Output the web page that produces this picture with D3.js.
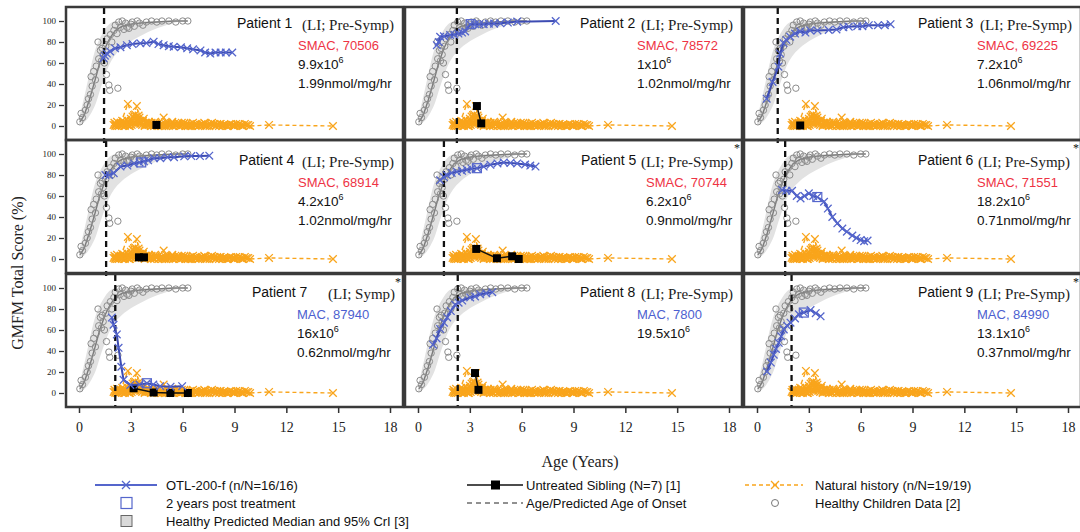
<!DOCTYPE html>
<html><head><meta charset="utf-8">
<script src="https://cdn.jsdelivr.net/npm/d3@7"></script>
<style>body{margin:0;background:#fff}svg{display:block}</style>
</head><body><svg id="c" width="1080" height="532"></svg>
<script>
// ---------- DATA ----------
const xTicks = [0, 3, 6, 9, 12, 15, 18];
const yTicks = [0, 20, 40, 60, 80, 100];

const healthyPoints = [[0.05,4],[0.12,12],[0.2,8],[0.37,15],[0.47,20],[0.55,26],[0.66,30],[0.7,47],[0.76,38],[0.85,52],[0.95,44],[1.0,57],[1.1,80],[1.14,64],[1.24,72],[1.3,62],[1.34,74],[1.4,68],[1.47,60],[1.55,76],[1.59,49],[1.63,83],[1.73,39],[1.78,34],[1.82,87],[1.9,80],[2.02,91],[2.1,96],[2.2,88],[2.25,36],[2.3,99],[2.4,94],[2.5,100],[2.6,92],[2.7,98],[2.79,94],[2.89,93],[3.0,97],[3.08,99],[3.2,95],[3.37,100],[3.5,98],[3.7,96],[3.9,99],[4.2,100],[4.5,99],[4.8,100],[5.2,100],[5.6,99],[6.0,100],[6.3,100]];
const healthyMedian = [[0.05,4],[0.3,10],[0.6,25],[0.9,42],[1.2,60],[1.5,74],[1.8,84],[2.1,91],[2.5,95],[3.0,97],[3.5,98],[4.5,99],[5.5,100],[6.3,100]];
// [age, lower, upper]
const healthyBand = [[0.0,1,8],[0.2,2,20],[0.5,6,42],[0.8,15,65],[1.0,22,76],[1.24,36,85],[1.5,48,92],[1.72,58,97],[2.0,66,100],[2.4,74,100],[3.2,83,100],[4.3,92,100],[5.0,96,100],[5.7,99,100]];

const nh1 = [[2.05,3],[2.4,2],[2.83,21],[3.1,9],[3.5,4],[4.1,2],[4.9,1],[5.8,2],[6.7,1],[7.6,2],[8.5,1],[9.4,1],[9.9,0],[11.0,1],[14.7,0]];
const nh2 = [[2.1,1],[2.6,4],[3.0,5],[3.35,19],[3.45,10],[3.9,3],[4.5,2],[5.3,1],[6.1,3],[7.0,1],[8.0,2],[9.0,0]];
const nh3 = [[2.2,4],[2.7,2],[3.2,7],[3.6,3],[4.3,1],[4.9,8],[5.5,2],[6.4,1],[7.3,0],[8.2,2],[9.2,1]];
const nh4 = [[2.3,0],[2.9,3],[3.3,9],[3.7,5],[4.6,0],[5.1,3],[5.9,0],[6.8,2],[7.8,1],[8.8,2],[9.7,1]];
const nh5 = [[2.0,1],[2.5,5],[3.0,2],[3.4,6],[3.8,1],[4.4,4],[5.6,1],[6.3,0],[7.1,2],[8.4,1]];
const nh6 = [[2.4,3],[2.8,1],[3.2,3],[3.5,8],[4.0,2],[4.8,0],[5.4,4],[6.0,1],[6.6,3],[7.4,0],[8.0,1],[9.6,2]];
const nh7 = [[2.15,2],[2.65,0],[3.05,4],[3.55,2],[4.2,3],[4.7,1],[5.2,0],[5.7,2],[6.2,2],[6.9,0],[7.7,3],[8.7,1],[9.3,2]];
const nh8 = [[2.35,1],[2.75,6],[3.15,3],[3.75,7],[4.05,4],[4.5,1],[5.0,2],[5.35,3],[6.5,2],[7.2,1],[8.1,0],[9.0,1]];
const nh9 = [[2.5,1],[2.9,0],[3.3,2],[3.8,0],[4.25,1],[4.8,2],[5.3,1],[5.8,0],[6.3,1],[6.8,1],[7.3,2],[7.9,0],[8.3,0],[8.9,1],[9.5,0]];
const nh10 = [[2.6,2],[3.05,1],[3.45,3],[3.95,1],[4.35,0],[4.85,1],[5.45,0],[5.95,3],[6.45,0],[7.05,1],[7.55,0],[8.15,2],[8.6,0],[9.1,2],[9.8,1]];
const nh11 = [[2.2,0],[2.55,3],[3.0,7],[3.25,11],[3.55,5],[3.85,3],[4.15,0],[4.55,2],[5.05,0],[5.65,1],[6.15,0],[6.75,0],[7.25,3],[7.85,2],[8.35,1],[8.95,0]];
const nh12 = [[2.1,0],[2.45,1],[2.95,0],[3.35,4],[3.65,1],[4.45,3],[4.95,0],[5.75,3],[6.55,0],[7.45,1],[8.55,0],[9.45,0]];
const naturalHistory = [nh1, nh2, nh3, nh4, nh5, nh6, nh7, nh8, nh9, nh10, nh11, nh12];

const otl1 = [[1.42,64.5],[1.5,67],[1.61,69],[1.8,71],[2.09,74],[2.4,75],[2.77,77],[3.1,78],[3.55,78.7],[3.9,79],[4.32,80.3],[4.6,78],[4.9,77],[5.2,76],[5.48,75.5],[5.9,75],[6.26,74],[6.6,73],[7.03,72],[7.3,70],[7.6,69],[7.9,70],[8.2,70],[8.5,70],[8.87,70]];
const otl2 = [[1.09,77],[1.2,80],[1.28,85],[1.5,85.5],[1.86,86.7],[2.1,87],[2.34,88],[2.55,89],[2.73,90],[3.02,97],[3.3,97],[3.55,97],[3.8,97],[4.1,97.5],[4.4,97.5],[4.77,97.8],[5.2,98.5],[5.74,99.4],[7.97,100]];
const otl3 = [[0.56,26],[0.9,42],[1.24,56.5],[1.34,69],[1.53,79],[1.7,82],[1.92,85],[2.2,88],[2.5,90],[2.8,89],[3.08,91],[3.5,91],[4.15,91.4],[4.6,92],[5.0,94],[5.31,94.6],[5.8,95],[6.1,95],[6.47,96],[7.0,96],[7.4,96],[7.73,97]];
const otl4 = [[1.53,80],[1.75,80],[2.01,81.7],[2.4,88],[2.8,89],[3.18,91],[3.5,92],[3.76,93],[4.0,94],[4.34,96],[4.7,96],[5.12,97],[5.5,97],[6.09,97.8],[6.5,98],[7.0,98],[7.54,98.4]];
const otl5 = [[1.28,75],[1.5,78],[1.67,80],[1.95,82],[2.25,83],[2.55,84],[2.83,85],[3.1,86],[3.41,86.5],[3.8,88],[4.19,89.7],[4.6,91],[4.96,92],[5.35,91.5],[5.74,91],[6.2,90],[6.5,89],[6.8,88]];
const otl6 = [[1.45,65.7],[1.7,65],[2.03,65],[2.3,60],[2.52,57.7],[2.75,60],[3.0,62.5],[3.25,60],[3.49,59],[3.88,54.5],[4.1,48],[4.36,40],[4.65,34],[4.94,29],[5.2,26],[5.52,22.4],[5.75,20],[6.0,18],[6.2,17],[6.4,17.6]];
const otl7 = [[1.9,71.8],[2.0,65],[2.19,55.8],[2.29,43],[2.45,25],[2.58,12.5],[2.97,7.7],[3.5,8],[3.93,9.3],[4.3,8],[4.7,6.5],[5.3,6],[5.97,6.5]];
const otl8 = [[0.87,46],[1.08,52],[1.28,61],[1.5,67],[1.69,72],[1.9,78],[2.15,84],[2.35,86],[2.56,88],[3.02,91],[3.3,92],[3.6,94],[3.95,95],[4.3,96]];
const otl9 = [[0.58,20.5],[0.8,29],[0.97,36.5],[1.1,42],[1.26,47.8],[1.4,54],[1.55,60.6],[1.75,64],[1.94,67],[2.2,71],[2.42,75],[2.71,76.6],[3.1,79],[3.4,76],[3.68,73]];
const otlSeries = [otl1, otl2, otl3, otl4, otl5, otl6, otl7, otl8, otl9];

// 2 years post treatment (open squares), null = none
const post2y = [null, [3.05,97], null, [3.6,92], [3.41,86.5], [3.49,59], [3.93,9.3], null, [2.71,76.6]];

const sib1 = [[4.48,1]];
const sib2 = [[3.41,19],[3.66,2.5]];
const sib3 = [[2.5,0.5]];
const sib4 = [[3.47,1.6],[3.76,1.6]];
const sib5 = [[3.37,9.6],[4.57,0.7],[5.45,2.6],[5.83,0]];
const sib6 = [];
const sib7 = [[3.16,4.5],[4.32,0.5],[5.29,0],[6.3,0]];
const sib8 = [[3.3,19],[3.5,3]];
const sib9 = [];
const siblingSeries = [sib1, sib2, sib3, sib4, sib5, sib6, sib7, sib8, sib9];

const onsetAge = [1.45, 2.25, 1.2, 1.57, 1.5, 1.63, 2.1, 2.3, 2.0];

const patientNames = ["Patient 1","Patient 2","Patient 3","Patient 4","Patient 5","Patient 6","Patient 7","Patient 8","Patient 9"];
const phenotype = ["(LI; Pre-Symp)","(LI; Pre-Symp)","(LI; Pre-Symp)","(LI; Pre-Symp)","(LI; Pre-Symp)","(LI; Pre-Symp)","(LI; Symp)","(LI; Pre-Symp)","(LI; Pre-Symp)"];
const starred = [false,false,false,false,true,true,true,false,true];
const genotype = ["SMAC, 70506","SMAC, 78572","SMAC, 69225","SMAC, 68914","SMAC, 70744","SMAC, 71551","MAC, 87940","MAC, 7800","MAC, 84990"];
const doseMantissa = ["9.9","1","7.2","4.2","6.2","18.2","16","19.5","13.1"];
const activity = ["1.99nmol/mg/hr","1.02nmol/mg/hr","1.06nmol/mg/hr","1.02nmol/mg/hr","0.9nmol/mg/hr","0.71nmol/mg/hr","0.62nmol/mg/hr",null,"0.37nmol/mg/hr"];

// ---------- LAYOUT ----------
const colLeft = [66, 405, 744], rowTop = [7, 140, 274], PW = 337, PH = 133;
const patOff = [[171,236,232],[175,236,232],[174,236,233],[173,236,232],[176,236,241],[174,234,233],[186,262,231],[175,236,232],[174,234,233]];
const rowTextOff = [21, 25, 23];

const C = {blue:"#3d4cb3", blueLight:"#5566cc", orange:"#f9a51c", grayC:"#8c8c8c", grayL:"#7a7a7a", band:"#e2e2e2", red:"#ee3344", mac:"#4d5fd0", border:"#3a3a3a"};
const SERIF = "'Liberation Serif','Times New Roman',serif";
const SANS = "'Liberation Sans',Arial,sans-serif";

const svg = d3.select("#c");
const xPath = s => `M${-s},${-s}L${s},${s}M${-s},${s}L${s},${-s}`;

for (let i = 0; i < 9; i++) {
  const c = i % 3, r = Math.floor(i / 3);
  const L = colLeft[c], T = rowTop[r];
  const x = d3.scaleLinear().domain([0, 18]).range([L + 13, L + 324]);
  const y = d3.scaleLinear().domain([0, 100]).range([T + 119, T + 14]);
  const g = svg.append("g");

  g.append("path").datum(healthyBand)
    .attr("d", d3.area().x(d => x(d[0])).y0(d => y(d[1])).y1(d => y(d[2])).curve(d3.curveBasis))
    .attr("fill", C.band);
  g.append("path").datum(healthyMedian)
    .attr("d", d3.line().x(d => x(d[0])).y(d => y(d[1])))
    .attr("fill", "none").attr("stroke", C.grayL).attr("stroke-width", 1.4);
  g.selectAll("circle.h").data(healthyPoints).join("circle")
    .attr("cx", d => x(d[0])).attr("cy", d => y(d[1])).attr("r", 3.2)
    .attr("fill", "none").attr("stroke", C.grayC).attr("stroke-width", 1);

  naturalHistory.forEach(s => {
    g.append("path").datum(s)
      .attr("d", d3.line().x(d => x(d[0])).y(d => y(d[1])))
      .attr("fill", "none").attr("stroke", C.orange).attr("stroke-width", 1.4).attr("stroke-dasharray", "4,3");
    g.selectAll(null).data(s).join("path")
      .attr("transform", d => `translate(${x(d[0])},${y(d[1])})`)
      .attr("d", xPath(3.8)).attr("stroke", C.orange).attr("stroke-width", 1.3).attr("fill", "none");
  });

  g.append("line").attr("x1", x(onsetAge[i])).attr("x2", x(onsetAge[i]))
    .attr("y1", T + 1).attr("y2", T + PH + (r === 2 ? 0 : 3))
    .attr("stroke", "#111").attr("stroke-width", 2.3).attr("stroke-dasharray", "6,4");

  const sib = siblingSeries[i];
  if (sib.length) {
    g.append("path").datum(sib)
      .attr("d", d3.line().x(d => x(d[0])).y(d => y(d[1])))
      .attr("fill", "none").attr("stroke", "#111").attr("stroke-width", 1.5);
    g.selectAll(null).data(sib).join("rect")
      .attr("x", d => x(d[0]) - 4).attr("y", d => y(d[1]) - 4)
      .attr("width", 8).attr("height", 8).attr("fill", "#000");
  }

  const otl = otlSeries[i];
  g.append("path").datum(otl)
    .attr("d", d3.line().x(d => x(d[0])).y(d => y(d[1])))
    .attr("fill", "none").attr("stroke", C.blue).attr("stroke-width", 2);
  g.selectAll(null).data(otl).join("path")
    .attr("transform", d => `translate(${x(d[0])},${y(d[1])})`)
    .attr("d", xPath(3.8)).attr("stroke", C.blueLight).attr("stroke-width", 1.3).attr("fill", "none");
  if (post2y[i]) {
    const p = post2y[i];
    g.append("rect").attr("x", x(p[0]) - 4.5).attr("y", y(p[1]) - 4.5)
      .attr("width", 9).attr("height", 9).attr("fill", "none")
      .attr("stroke", C.blueLight).attr("stroke-width", 1.2);
  }

  const o = patOff[i], tb = T + rowTextOff[r];
  g.append("text").attr("x", L + o[0]).attr("y", tb).text(patientNames[i])
    .attr("font-family", SANS).attr("font-size", 14).attr("fill", "#111");
  g.append("text").attr("x", L + o[1]).attr("y", tb + 2).text(phenotype[i])
    .attr("font-family", SERIF).attr("font-size", 15).attr("fill", "#222");
  if (starred[i]) {
    g.append("text").attr("x", L + PW - 8).attr("y", T + 12).text("*")
      .attr("font-family", SERIF).attr("font-size", 12).attr("fill", "#111");
  }
  const ib = tb + 22;
  g.append("text").attr("x", L + o[2]).attr("y", ib).text(genotype[i])
    .attr("font-family", SANS).attr("font-size", 13)
    .attr("fill", genotype[i].startsWith("SMAC") ? C.red : C.mac);
  const dt = g.append("text").attr("x", L + o[2]).attr("y", ib + 19)
    .attr("font-family", SANS).attr("font-size", 13.5).attr("fill", "#111");
  dt.append("tspan").text(doseMantissa[i] + "x10");
  dt.append("tspan").attr("dy", -6).attr("font-size", 9).text("6");
  if (activity[i]) {
    g.append("text").attr("x", L + o[2]).attr("y", ib + 38).text(activity[i])
      .attr("font-family", SANS).attr("font-size", 13.5).attr("fill", "#111");
  }

  svg.append("rect").attr("x", L).attr("y", T).attr("width", PW).attr("height", PH)
    .attr("fill", "none").attr("stroke", C.border).attr("stroke-width", 2.5);

  if (c === 0) {
    const ya = svg.append("g").attr("transform", `translate(${L - 2},0)`)
      .call(d3.axisLeft(y).tickValues(yTicks).tickSize(5).tickPadding(3));
    ya.select(".domain").remove();
    ya.selectAll("text").attr("font-family", SERIF).attr("font-size", 9).attr("fill", "#222");
    ya.selectAll("line").attr("stroke", "#333").attr("stroke-width", 1.3);
  }
  if (r === 2) {
    const xa = svg.append("g").attr("transform", `translate(0,${T + PH})`)
      .call(d3.axisBottom(x).tickValues(xTicks).tickSize(6).tickPadding(9));
    xa.select(".domain").remove();
    xa.selectAll("text").attr("font-family", SERIF).attr("font-size", 14).attr("fill", "#222");
    xa.selectAll("line").attr("stroke", "#333").attr("stroke-width", 1.5);
  }
}

svg.append("text").attr("transform", "translate(23,273) rotate(-90)")
  .attr("text-anchor", "middle").attr("font-family", SERIF).attr("font-size", 16).attr("fill", "#222")
  .text("GMFM Total Score (%)");
svg.append("text").attr("x", 580).attr("y", 467).attr("text-anchor", "middle")
  .attr("font-family", SERIF).attr("font-size", 16).attr("fill", "#222").text("Age (Years)");

const lg = svg.append("g").attr("font-family", SANS).attr("font-size", 13).attr("fill", "#111");
const ly = [485, 503, 521];
lg.append("line").attr("x1", 95).attr("x2", 157).attr("y1", ly[0]).attr("y2", ly[0]).attr("stroke", C.blueLight).attr("stroke-width", 2);
lg.append("path").attr("transform", `translate(126,${ly[0]})`).attr("d", xPath(4)).attr("stroke", C.blueLight).attr("stroke-width", 1.3);
lg.append("text").attr("x", 166).attr("y", ly[0] + 5).text("OTL-200-f (n/N=16/16)");
lg.append("rect").attr("x", 121).attr("y", ly[1] - 5.5).attr("width", 11).attr("height", 11).attr("fill", "none").attr("stroke", C.blueLight).attr("stroke-width", 1.2);
lg.append("text").attr("x", 166).attr("y", ly[1] + 5).text("2 years post treatment");
lg.append("rect").attr("x", 121).attr("y", ly[2] - 5.5).attr("width", 11).attr("height", 11).attr("fill", "#d9d9d9").attr("stroke", "#666").attr("stroke-width", 1);
lg.append("text").attr("x", 166).attr("y", ly[2] + 5).text("Healthy Predicted Median and 95% CrI [3]");
lg.append("line").attr("x1", 467).attr("x2", 523).attr("y1", ly[0]).attr("y2", ly[0]).attr("stroke", "#111").attr("stroke-width", 1.5);
lg.append("rect").attr("x", 491).attr("y", ly[0] - 4.5).attr("width", 9).attr("height", 9).attr("fill", "#000");
lg.append("text").attr("x", 526).attr("y", ly[0] + 5).text("Untreated Sibling (N=7) [1]");
lg.append("line").attr("x1", 467).attr("x2", 523).attr("y1", ly[1]).attr("y2", ly[1]).attr("stroke", "#222").attr("stroke-width", 1).attr("stroke-dasharray", "5,4");
lg.append("text").attr("x", 526).attr("y", ly[1] + 5).text("Age/Predicted Age of Onset");
lg.append("line").attr("x1", 745).attr("x2", 803).attr("y1", ly[0]).attr("y2", ly[0]).attr("stroke", C.orange).attr("stroke-width", 1.5).attr("stroke-dasharray", "4,3");
lg.append("path").attr("transform", `translate(775,${ly[0]})`).attr("d", xPath(4)).attr("stroke", C.orange).attr("stroke-width", 1.3);
lg.append("text").attr("x", 815).attr("y", ly[0] + 5).text("Natural history (n/N=19/19)");
lg.append("circle").attr("cx", 775).attr("cy", ly[1]).attr("r", 3.5).attr("fill", "none").attr("stroke", "#777").attr("stroke-width", 1);
lg.append("text").attr("x", 815).attr("y", ly[1] + 5).text("Healthy Children Data [2]");
</script></body></html>
